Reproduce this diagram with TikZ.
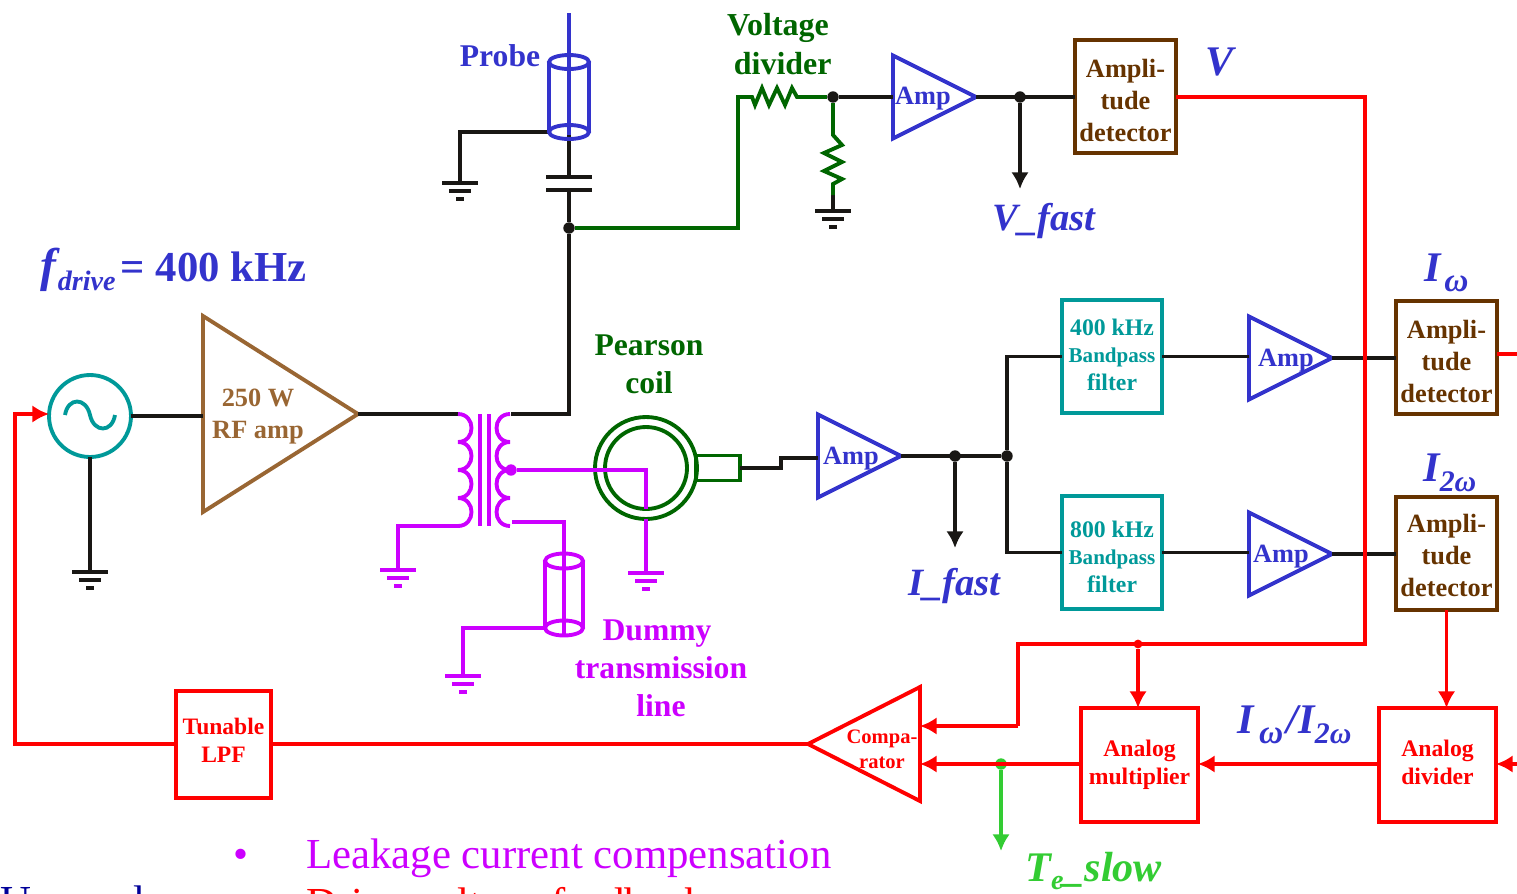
\documentclass[tikz,border=0pt]{standalone}
\usepackage{fontspec}
\setmainfont{Liberation Serif}
\usetikzlibrary{arrows.meta,calc,shapes.geometric}
\definecolor{WireClr}{rgb}{0.1,0.09,0.08}
\definecolor{BlueClr}{rgb}{0.2,0.2,0.8}
\definecolor{GreenClr}{rgb}{0,0.4,0}
\definecolor{RedClr}{rgb}{1,0,0}
\definecolor{MagClr}{rgb}{0.8,0,1}
\definecolor{TealClr}{rgb}{0,0.6,0.6}
\definecolor{TanClr}{rgb}{0.6,0.4,0.2}
\definecolor{BrownClr}{rgb}{0.4,0.2,0}
\definecolor{LimeClr}{rgb}{0.2,0.8,0.2}
\definecolor{NavyClr}{rgb}{0,0,0.6}
\tikzset{
  wire/.style={line width=2.2pt,color=WireClr},
  wireB/.style={line width=2.2pt,color=BlueClr},
  wireG/.style={line width=2.2pt,color=GreenClr},
  wireR/.style={line width=2.2pt,color=RedClr},
  wireM/.style={line width=2.2pt,color=MagClr},
  wireL/.style={line width=2.2pt,color=LimeClr},
  tipped/.style={-{Latex[length=9.5pt,width=10pt]}},
  dotnode/.style={circle,fill,inner sep=0pt,minimum size=6.5pt},
  ampTri/.style={isosceles triangle,isosceles triangle stretches,draw,line width=2.2pt,
    inner sep=0pt,outer sep=0pt,minimum width=#1,minimum height=#1},
  boxnode/.style={rectangle,draw,line width=2.2pt,inner sep=0pt,outer sep=0pt,align=center,
    font=\bfseries\fontsize{15}{18.2}\selectfont},
  lbl/.style={inner sep=0pt,align=center,font=\bfseries\fontsize{18}{21.6}\selectfont},
  ilbl/.style={inner sep=0pt,anchor=base west,color=BlueClr,font=\bfseries\itshape\fontsize{24}{28}\selectfont},
  gnd/.pic={\draw[line width=2.2pt] (-18,0)--(18,0) (-11,8)--(11,8) (-4,16)--(4,16);}
}
\newcommand{\subtxt}[1]{\raisebox{-5.5pt}{\fontsize{16}{18}\selectfont #1}}
\newcommand{\subomg}[1]{\raisebox{-6pt}{\fontsize{19}{20}\selectfont #1}}
\newcommand{\dn}[1]{\rule{0pt}{#1pt}}
\newcommand{\up}[1]{\rule[-#1pt]{0pt}{0pt}}
\begin{document}
\begin{tikzpicture}[x=0.02cm,y=-0.02cm]
\useasboundingbox (0,0) rectangle (1517,893);
\clip (0,0) rectangle (1517,893);

\node[draw=TealClr,circle,line width=2.2pt,minimum size=1.64cm,inner sep=0pt,outer sep=0pt] (src) at (90,416) {};
\draw[TealClr,line width=2.2pt] (65,415) .. controls (68,397) and (86,397) .. (90,415) .. controls (94,433) and (112,433) .. (115,415);
\node[ampTri=3.1cm,minimum width=3.92cm,minimum height=3.1cm,draw=TanClr,anchor=apex] (rfAmp) at (358,414) {};
\node[color=TanClr,boxnode,draw=none] at (258,417) {250 W\\RF amp};
\node[ilbl] at (40,281) {{\fontsize{27}{28}\selectfont f}\kern1pt\subtxt{drive}\kern3pt\upshape\fontsize{24.3}{28}\selectfont= 400 kHz};

\coordinate (gS) at (90,572);
\coordinate (prTop) at (458,414);
\coordinate (prBot) at (458,526);
\coordinate (seTop) at (511,414);
\coordinate (seBot) at (512,522);
\coordinate (corner) at (569,414);
\node[dotnode,color=WireClr] (jCap) at (569,228) {};
\draw[wire] (src) -- (gS);
\draw[wire] (src.east) -- (rfAmp.west |- src.east);
\draw[wire] (rfAmp.apex) -- (prTop);
\draw[wire] (seTop) -- (corner) -- (jCap);
\pic[color=WireClr] at (gS) {gnd};

\foreach \yy in {414,442,470,498}{
  \draw[wireM] (458,\yy) .. controls (476,\yy) and (476,\yy+28) .. (458,\yy+28);
  \draw[wireM] (510,\yy) .. controls (492,\yy) and (492,\yy+28) .. (510,\yy+28);
}
\draw[wireM] (480,414) -- (480,526) (489,414) -- (489,526);
\coordinate (gA) at (398,570);
\coordinate (gB) at (646,573);
\coordinate (gC) at (463,676);
\draw[wireM] (prBot) -| (gA);
\pic[color=MagClr] at (gA) {gnd};
\pic[color=MagClr] at (gB) {gnd};
\pic[color=MagClr] at (gC) {gnd};

\node[circle,draw=GreenClr,line width=2.2pt,minimum size=2.04cm,inner sep=0pt,outer sep=0pt] (coilOut) at (646,468) {};
\node[circle,draw=GreenClr,line width=2.2pt,minimum size=1.64cm,inner sep=0pt,outer sep=0pt] (coilIn) at (646,468) {};
\node[rectangle,draw=GreenClr,line width=2.2pt,minimum width=0.88cm,minimum height=0.5cm,inner sep=0pt,outer sep=0pt] (coilBox) at (718,468) {};
\node[lbl,color=GreenClr,font=\bfseries\fontsize{18}{21.5}\selectfont] at (649,364) {Pearson\\coil};

\node[dotnode,color=MagClr] (jSec) at (511,470) {};
\draw[wireM] (jSec) -| (coilIn.south);
\draw[wireM] (coilOut.south) -- (gB);

\coordinate (tlTop) at (564,522);
\coordinate (tlEnd) at (564,637);
\coordinate (tlLeft) at (545,628);
\draw[wireM] (seBot) -- (tlTop) -- (tlEnd);
\draw[wireM] (564,561) ellipse (19 and 7.5) (564,628) ellipse (19 and 7.5);
\draw[wireM] (545,561) -- (tlLeft) (583,561) -- (583,628);
\draw[wireM] (tlLeft) -| (gC);
\node[lbl,color=MagClr] at (661,668) {Dummy\kern4.5pt\\transmission\\line};

\coordinate (pTop) at (569,13);
\coordinate (pBot) at (569,135);
\coordinate (pLeft) at (549,132);
\coordinate (gD) at (460,183);
\draw[wire] (pBot) -- (569,177) (jCap) -- (569,190);
\draw[wire] (546,177) -- (592,177) (546,190) -- (592,190);
\draw[wire] (pLeft) -| (gD);
\pic[color=WireClr] at (gD) {gnd};
\draw[wireB] (pTop) -- (pBot);
\draw[wireB] (569,62) ellipse (20 and 7) (569,132) ellipse (20 and 7);
\draw[wireB] (549,62) -- (pLeft) (589,62) -- (589,132);
\node[lbl,color=BlueClr] at (500,56) {Probe};

\node[dotnode,color=WireClr] (jDiv) at (833,97) {};
\coordinate (gE) at (833,211);
\draw[wireG] (jCap) -- (738,228) -- (738,97) -- (752,97) -- (755,105) -- (762,88) -- (769,105) -- (777,88) -- (785,105) -- (792,88) -- (797,97) -- (jDiv);
\draw[wire] (833,195) -- (gE);
\draw[wireG] (jDiv) -- (833,135) -- (842,145) -- (824,153) -- (842,162) -- (824,171) -- (842,179) -- (833,184) -- (833,195);
\pic[color=WireClr] at (gE) {gnd};
\node[lbl,color=GreenClr,font=\bfseries\fontsize{18.2}{22}\selectfont] at (781,44) {Voltage\kern3.5pt\\\kern2pt divider};

\node[ampTri=1.66cm,draw=BlueClr,anchor=apex] (ampV) at (976,97) {};
\node[ampTri=1.66cm,draw=BlueClr,anchor=apex] (ampI) at (901,456) {};
\node[ampTri=1.66cm,draw=BlueClr,anchor=apex] (ampA) at (1332,358) {};
\node[ampTri=1.66cm,draw=BlueClr,anchor=apex] (ampB) at (1332,554) {};
\node[boxnode,draw=none,color=BlueClr] at (923,99) {Amp};
\node[boxnode,draw=none,color=BlueClr] at (851,459) {Amp};
\node[boxnode,draw=none,color=BlueClr] at (1286,361) {Amp};
\node[boxnode,draw=none,color=BlueClr] at (1281,557) {Amp};

\node[boxnode,draw=BrownClr,color=BrownClr,minimum width=2.02cm,minimum height=2.26cm] (detV) at (1125.5,96.5) {\dn{15}Ampli-\\tude\\detector};
\node[boxnode,draw=BrownClr,color=BrownClr,minimum width=2.02cm,minimum height=2.26cm] (detA) at (1446.5,357.5) {\dn{15}Ampli-\\tude\\detector};
\node[boxnode,draw=BrownClr,color=BrownClr,minimum width=2.02cm,minimum height=2.26cm] (detB) at (1446.5,553.5) {\dn{13}Ampli-\\tude\\detector};
\node[boxnode,draw=TealClr,color=TealClr,minimum width=2cm,minimum height=2.26cm,font=\bfseries\fontsize{13.5}{15.6}\selectfont] (bpfA) at (1112,356.5) {400 kHz\\{\fontsize{12}{15.6}\selectfont Bandpass}\\filter\up{2}};
\node[boxnode,draw=TealClr,color=TealClr,minimum width=2cm,minimum height=2.26cm,font=\bfseries\fontsize{13.5}{15.6}\selectfont] (bpfB) at (1112,552.5) {\dn{14}800 kHz\\{\fontsize{12}{15.6}\selectfont Bandpass}\\filter};

\coordinate (cE) at (740,468);
\coordinate (cT) at (781,458);
\coordinate (vFast) at (1020,189);
\coordinate (iFast) at (955,548);
\node[dotnode,color=WireClr] (jV) at (1020,97) {};
\node[dotnode,color=WireClr] (jI) at (955,456) {};
\node[dotnode,color=WireClr] (jS) at (1007,456) {};
\draw[wire] (jDiv) -- (ampV.west);
\draw[wire] (ampV.apex) -- (ampV.apex -| detV.west);
\draw[wire,tipped] (jV) -- (vFast);
\draw[wire] (cE) -- (781,468) -- (cT) -- (cT -| ampI.west);
\draw[wire] (ampI.apex) -- (jS);
\draw[wire,tipped] (jI) -- (iFast);
\draw[wire] (bpfA.west) -| (jS) |- (bpfB.west);
\draw[wire] (bpfA.east) -- (bpfA.east -| ampA.west);
\draw[wire] (bpfB.east) -- (bpfB.east -| ampB.west);
\draw[wire] (ampA.apex) -- (ampA.apex -| detA.west);
\draw[wire] (ampB.apex) -- (ampB.apex -| detB.west);

\node[rectangle,draw=RedClr,line width=2.2pt,color=RedClr,inner sep=0pt,outer sep=0pt,align=center,font=\bfseries\fontsize{13.4}{15.8}\selectfont,minimum width=1.9cm,minimum height=2.14cm] (lpf) at (223.5,744.5) {Tunable\\LPF\up{5}};
\node[ampTri=2cm,minimum width=2.28cm,minimum height=2.24cm,shape border rotate=180,draw=RedClr,anchor=apex] (cmp) at (808,744) {};
\node[boxnode,draw=none,color=RedClr,font=\bfseries\fontsize{11.7}{14.3}\selectfont] at (882,749) {Compa-\\rator};
\node[boxnode,draw=RedClr,color=RedClr,minimum width=2.34cm,minimum height=2.28cm,font=\bfseries\fontsize{13.5}{15.8}\selectfont] (mult) at (1139.5,765) {Analog\\multiplier\up{3}};
\node[boxnode,draw=RedClr,color=RedClr,minimum width=2.34cm,minimum height=2.28cm,font=\bfseries\fontsize{13.5}{15.8}\selectfont] (divd) at (1437.5,765) {Analog\\divider\up{3}};

\coordinate (rTurn) at (1365,97);
\coordinate (rLow) at (1365,644);
\coordinate (rStep) at (1018,644);
\coordinate (cmpA) at (920,726);
\coordinate (cmpB) at (920,764);
\coordinate (multB) at (1198,764);
\coordinate (multL) at (1081,764);
\coordinate (divL) at (1379,764);
\coordinate (divR) at (1496,764);
\coordinate (edgeA) at (1517,354);
\coordinate (edgeB) at (1517,764);
\coordinate (detRA) at (1497,354);
\coordinate (feedL) at (15,744);
\coordinate (feedT) at (15,414);
\coordinate (srcW) at (49,414);
\coordinate (tSlow) at (1001,851);
\node[dotnode,color=RedClr,minimum size=5pt] (jR) at (1138,644) {};
\node[dotnode,color=LimeClr] (jT) at (1001,764) {};
\draw[wireR] (rTurn -| detV.east) -- (rTurn) -- (rLow) -- (rStep) -- (1018,726);
\draw[wireR,tipped] (1018,726) -- (cmpA);
\draw[wireR,tipped] (jR) -- (mult.north -| jR);
\draw[wireR,tipped] (detB.south) -- (detB.south |- divd.north);
\draw[wireR,tipped] (divL) -- (multB);
\draw[wireR,tipped] (edgeB) -- (divR);
\draw[wireR] (detRA) -- (edgeA);
\draw[wireR,tipped] (multL) -- (cmpB);
\draw[wireR] (cmp.apex) -- (lpf.east |- cmp.apex);
\draw[wireR,tipped] (lpf.west |- feedL) -- (feedL) -- (feedT) -- (srcW);
\draw[wireL,tipped] (jT) -- (tSlow);

\node[ilbl] at (1205,75) {V};
\node[ilbl,font=\bfseries\itshape\fontsize{22}{26}\selectfont] at (992,230) {V\_fast};
\node[ilbl,font=\bfseries\itshape\fontsize{22}{26}\selectfont] at (908,595) {I\_fast};
\node[ilbl,color=LimeClr,font=\bfseries\itshape\fontsize{24}{26}\selectfont] at (1025,881) {T\raisebox{-5pt}{\fontsize{16}{18}\selectfont e}\_slow};
\node[ilbl] at (1424,281) {I\kern2pt\subomg{ω}};
\node[ilbl] at (1423,481) {I\subomg{\fontsize{17}{20}\selectfont 2ω}};
\node[ilbl] at (1237,733) {I\kern3pt\subomg{ω}\kern2pt/I\subomg{\fontsize{17}{20}\selectfont 2ω}};

\node[inner sep=0pt,anchor=base,color=MagClr,font=\fontsize{24.35}{28}\selectfont] at (241,868) {•};
\node[inner sep=0pt,anchor=base west,color=MagClr,font=\fontsize{24.35}{28}\selectfont] at (306,868) {Leakage current compensation};
\node[inner sep=0pt,anchor=base west,color=RedClr,font=\fontsize{24.35}{28}\selectfont] at (306,917) {Drive voltage feedback};
\node[inner sep=0pt,anchor=base west,color=NavyClr,font=\fontsize{24.35}{28}\selectfont] at (0,915) {Unequal};
\end{tikzpicture}
\end{document}
